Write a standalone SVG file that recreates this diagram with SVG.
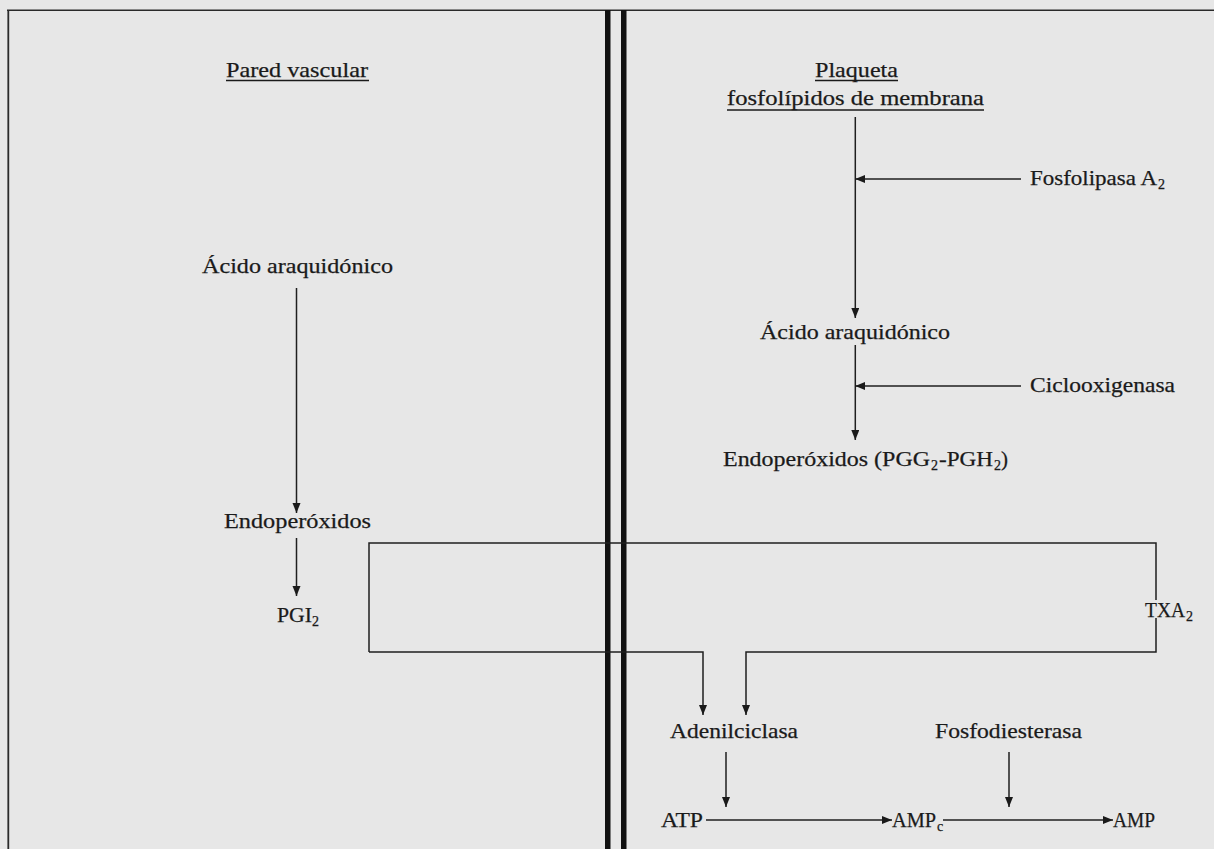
<svg xmlns="http://www.w3.org/2000/svg" width="1214" height="849" viewBox="0 0 1214 849">
<style>
.t{font-family:"Liberation Serif","Times New Roman",serif;font-size:21px;fill:#1a1a1a;stroke:#1a1a1a;stroke-width:0.25}
.sub{font-size:14px}
.ln{stroke:#1f1f1f;stroke-width:1.5;fill:none}
.ar{stroke:#1f1f1f;stroke-width:1.5;fill:none;marker-end:url(#ah)}
.ul{stroke:#1a1a1a;stroke-width:1.7}
</style>
<defs>
<marker id="ah" markerUnits="userSpaceOnUse" markerWidth="12" markerHeight="10" refX="10" refY="4" orient="auto">
<path d="M0,0 L10,4 L0,8 z" fill="#1a1a1a"/>
</marker>
</defs>
<rect x="0" y="0" width="1214" height="849" fill="#e7e7e7"/>
<g id="frame">
<line x1="7" y1="10.3" x2="1214" y2="10.3" stroke="#2a2a2a" stroke-width="1.6"/>
<line x1="8.3" y1="10" x2="8.3" y2="849" stroke="#2a2a2a" stroke-width="1.8"/>
<rect x="605" y="10" width="5.5" height="839" fill="#111"/>
<rect x="621" y="10" width="5.5" height="839" fill="#111"/>
</g>
<g id="connectors">
<line class="ar" x1="296.5" y1="288" x2="296.5" y2="513"/>
<line class="ar" x1="296.5" y1="538" x2="296.5" y2="596"/>
<line class="ar" x1="855.3" y1="117" x2="855.3" y2="318"/>
<line class="ar" x1="1021" y1="179" x2="855.3" y2="179"/>
<line class="ar" x1="855.3" y1="345" x2="855.3" y2="440"/>
<line class="ar" x1="1021" y1="386" x2="855.3" y2="386"/>
<polyline class="ln" points="369,652 369,543 1156,543 1156,600"/>
<polyline class="ar" points="369,652 703,652 703,715"/>
<polyline class="ar" points="1156,618 1156,652 746,652 746,715"/>
<line class="ar" x1="726" y1="752" x2="726" y2="807"/>
<line class="ar" x1="1009" y1="752" x2="1009" y2="807"/>
<line class="ar" x1="706" y1="820" x2="892" y2="820"/>
<line class="ar" x1="943" y1="820" x2="1113" y2="820"/>
</g>
<g id="pared-vascular">
<text class="t" x="226" y="77" textLength="142" lengthAdjust="spacingAndGlyphs">Pared vascular</text>
<line class="ul" x1="226" y1="80.5" x2="369" y2="80.5"/>
</g>
<g id="acido-araquidonico-pared">
<text class="t" x="202" y="273" textLength="191" lengthAdjust="spacingAndGlyphs">Ácido araquidónico</text>
</g>
<g id="endoperoxidos-pared">
<text class="t" x="224" y="528" textLength="147" lengthAdjust="spacingAndGlyphs">Endoperóxidos</text>
</g>
<g id="pgi2">
<text class="t" x="277" y="622" textLength="35" lengthAdjust="spacingAndGlyphs">PGI</text>
<text class="t sub" x="312" y="626">2</text>
</g>
<g id="plaqueta">
<text class="t" x="815" y="77" textLength="83" lengthAdjust="spacingAndGlyphs">Plaqueta</text>
<line class="ul" x1="815" y1="80.5" x2="898" y2="80.5"/>
<text class="t" x="727" y="105" textLength="257" lengthAdjust="spacingAndGlyphs">fosfolípidos de membrana</text>
<line class="ul" x1="727" y1="110" x2="984" y2="110"/>
</g>
<g id="fosfolipasa">
<text class="t" x="1030" y="185" textLength="127" lengthAdjust="spacingAndGlyphs">Fosfolipasa A</text>
<text class="t sub" x="1158" y="189">2</text>
</g>
<g id="acido-araquidonico-plaqueta">
<text class="t" x="760" y="339" textLength="190" lengthAdjust="spacingAndGlyphs">Ácido araquidónico</text>
</g>
<g id="ciclooxigenasa">
<text class="t" x="1030" y="392" textLength="145" lengthAdjust="spacingAndGlyphs">Ciclooxigenasa</text>
</g>
<g id="endoperoxidos-plaqueta">
<text class="t" x="723" y="466" textLength="207" lengthAdjust="spacingAndGlyphs">Endoperóxidos (PGG</text>
<text class="t sub" x="931" y="470">2</text>
<text class="t" x="939" y="466" textLength="54" lengthAdjust="spacingAndGlyphs">-PGH</text>
<text class="t sub" x="994" y="470">2</text>
<text class="t" x="1001" y="466">)</text>
</g>
<g id="txa2">
<text class="t" x="1145" y="617" textLength="40" lengthAdjust="spacingAndGlyphs">TXA</text>
<text class="t sub" x="1186" y="621">2</text>
</g>
<g id="adenilciclasa">
<text class="t" x="670" y="738" textLength="128" lengthAdjust="spacingAndGlyphs">Adenilciclasa</text>
</g>
<g id="fosfodiesterasa">
<text class="t" x="935" y="738" textLength="147" lengthAdjust="spacingAndGlyphs">Fosfodiesterasa</text>
</g>
<g id="atp">
<text class="t" x="661" y="827" textLength="42" lengthAdjust="spacingAndGlyphs">ATP</text>
</g>
<g id="ampc">
<text class="t" x="892" y="827" textLength="44" lengthAdjust="spacingAndGlyphs">AMP</text>
<text class="t sub" x="937" y="831">c</text>
</g>
<g id="amp">
<text class="t" x="1113" y="827" textLength="42" lengthAdjust="spacingAndGlyphs">AMP</text>
</g>
</svg>
